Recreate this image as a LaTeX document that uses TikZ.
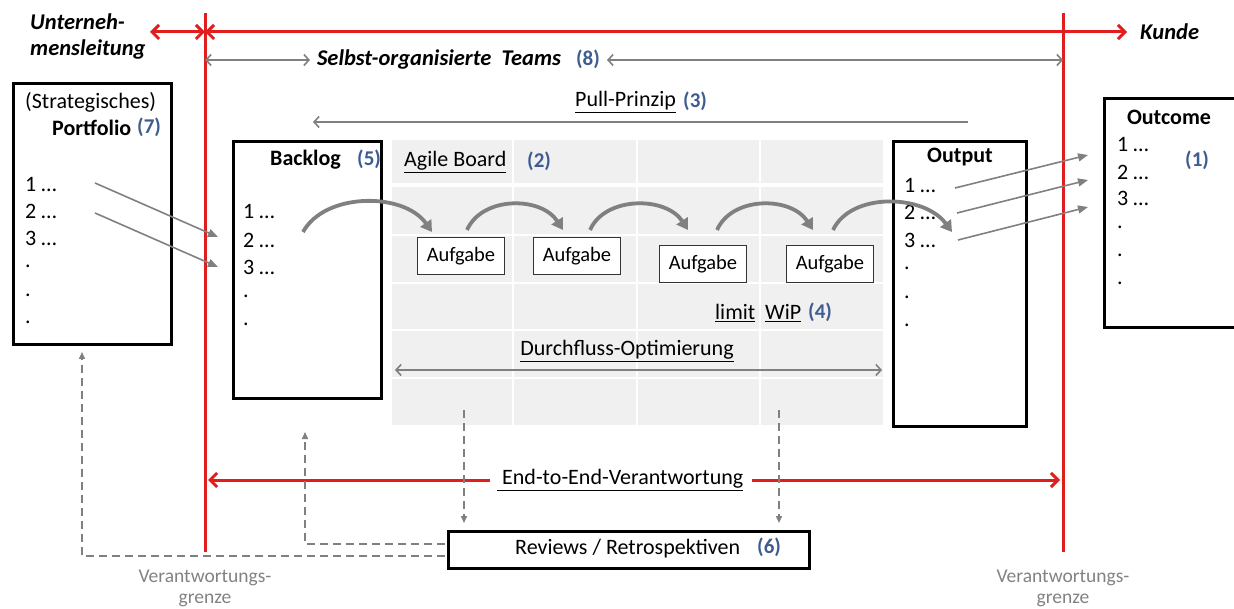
\documentclass[tikz,border=0pt]{standalone}
\usepackage{fontspec}
\setmainfont{Carlito}
\usetikzlibrary{arrows.meta}
\definecolor{redline}{RGB}{224,30,30}
\definecolor{arrowgray}{RGB}{128,128,128}
\definecolor{numblue}{RGB}{62,92,145}
\definecolor{boardgray}{RGB}{240,240,240}
\definecolor{labelgray}{RGB}{130,130,130}
\begin{document}
\begin{tikzpicture}[x=1pt,y=-1pt,
  txt/.style={inner sep=0pt, font=\fontsize{22}{26}\selectfont},
  btxt/.style={inner sep=0pt, font=\fontsize{22}{26}\selectfont\bfseries},
  bitxt/.style={inner sep=0pt, font=\fontsize{22.5}{26}\selectfont\bfseries\itshape},
  num/.style={inner sep=0pt, font=\fontsize{21}{25}\selectfont\bfseries, text=numblue},
  graytxt/.style={inner sep=0pt, font=\fontsize{19.5}{23}\selectfont, text=labelgray},
  listbox/.style={draw=black, line width=3pt, fill=white, inner sep=0pt, anchor=north west},
  taskbox/.style={draw=black!80, line width=1pt, fill=white, inner sep=0pt,
    minimum width=87pt, minimum height=37pt, font=\fontsize{20.5}{24}\selectfont},
  redline/.style={draw=redline, line width=3pt},
  redarrow/.style={redline, {Straight Barb[length=7pt,width=14pt,line width=3pt]}-{Straight Barb[length=7pt,width=14pt,line width=3pt]}},
  redtip/.style={redline, -{Straight Barb[length=7pt,width=14pt,line width=3pt]}},
  thinarrow/.style={draw=arrowgray, line width=1.6pt, {Straight Barb[length=5pt,width=11pt]}-{Straight Barb[length=5pt,width=11pt]}},
  thintip/.style={draw=arrowgray, line width=1.6pt, -{Straight Barb[length=5pt,width=11pt]}},
  feedarrow/.style={draw=arrowgray, line width=1.6pt, -{Triangle[length=10pt,width=8pt]}},
  flowarrow/.style={draw=arrowgray, line width=3.8pt, -{Triangle[length=11pt,width=13pt]}},
  dasharrow/.style={draw=arrowgray, line width=1.5pt, dash pattern=on 8pt off 5pt, -{Triangle[length=7pt,width=6pt]}}
]
\useasboundingbox (0,0) rectangle (1234,609);

% ---------- Agile board background with grid ----------
\fill[boardgray] (392,140) rectangle (883,425);
\draw[white, line width=4pt] (392,185) -- (883,185);
\foreach \yy in {235,283,330,378} \draw[white, line width=1.5pt] (392,\yy) -- (883,\yy);
\foreach \xx in {513,637,760} \draw[white, line width=1.5pt] (\xx,140) -- (\xx,425);

% ---------- responsibility boundaries ----------
\coordinate (lbtop) at (205,13);
\coordinate (lbbot) at (205,552);
\coordinate (rbtop) at (1063,13);
\coordinate (rbbot) at (1063,552);
\draw[redline] (lbtop) -- (lbbot);
\draw[redline] (rbtop) -- (rbbot);

\coordinate (mgmt) at (150,32);
\coordinate (lbtopA) at (205,32);
\coordinate (cust) at (1127,32);
\draw[redarrow] (mgmt) -- (lbtopA);
\draw[redarrow] (lbtopA) -- (cust);

\node[bitxt, anchor=west] (mgmt1) at (30,22) {Unterneh-};
\node[bitxt, anchor=west] (mgmt2) at (30,50) {mensleitung};
\node[bitxt, anchor=west] (kunde) at (1140,32) {Kunde};

% ---------- self-organised teams ----------
\node[bitxt, anchor=center] (teams) at (439,60) {Selbst-organisierte\ \ Teams};
\node[num, anchor=center] (n8) at (588,59) {(8)};
\coordinate (ta) at (205,60);
\coordinate (tb) at (310,60);
\coordinate (tc) at (607,60);
\coordinate (td) at (1063,60);
\draw[thinarrow] (ta) -- (tb);
\draw[thinarrow] (tc) -- (td);

% ---------- pull principle ----------
\node[txt, anchor=west] (pull) at (575,102) {\underline{Pull-Prinzip}};
\node[num, anchor=west] (n3) at (683,101) {(3)};
\coordinate (pullA) at (968,122);
\coordinate (pullB) at (313,122);
\draw[thintip] (pullA) -- (pullB);

% ---------- portfolio ----------
\node[listbox, minimum width=158pt, minimum height=261pt] (portfolio) at (12,82) {};
\node[txt, anchor=west] (strat) at (25,102) {(Strategisches)};
\node[btxt, anchor=west] (pfl) at (52,128) {Portfolio};
\node[num, anchor=west] (n7) at (137,127) {(7)};
\node[txt, anchor=west] (p1) at (25,185) {1 …};
\node[txt, anchor=west] (p2) at (25,211) {2 …};
\node[txt, anchor=west] (p3) at (25,238) {3 …};
\node[txt, anchor=west] (p4) at (25,266) {.};
\node[txt, anchor=west] (p5) at (25,295) {.};
\node[txt, anchor=west] (p6) at (25,322) {.};

% ---------- backlog ----------
\node[listbox, minimum width=148pt, minimum height=257pt] (backlog) at (232,140) {};
\node[btxt, anchor=west] (blt) at (270,160) {Backlog};
\node[num, anchor=west] (n5) at (357,159) {(5)};
\node[txt, anchor=west] (b1) at (243,212) {1 …};
\node[txt, anchor=west] (b2) at (243,240) {2 …};
\node[txt, anchor=west] (b3) at (243,267) {3 …};
\node[txt, anchor=west] (b4) at (243,296) {.};
\node[txt, anchor=west] (b5) at (243,324) {.};

\coordinate (pf1) at (95,183);
\coordinate (pf2) at (95,213);
\coordinate (bl2) at (218,237);
\coordinate (bl3) at (218,267);
\draw[feedarrow] (pf1) -- (bl2);
\draw[feedarrow] (pf2) -- (bl3);

% ---------- output ----------
\node[listbox, minimum width=133pt, minimum height=285pt] (output) at (892,140) {};
\node[btxt, anchor=center] (outt) at (960,157) {Output};
\node[txt, anchor=west] (o1) at (904,186) {1 …};
\node[txt, anchor=west] (o2) at (904,212) {2 …};
\node[txt, anchor=west] (o3) at (904,240) {3 …};
\node[txt, anchor=west] (o4) at (904,268) {.};
\node[txt, anchor=west] (o5) at (904,297) {.};
\node[txt, anchor=west] (o6) at (904,325) {.};

% ---------- outcome ----------
\node[listbox, minimum width=135pt, minimum height=229pt] (outcome) at (1103,97) {};
\node[btxt, anchor=center] (outct) at (1169,117) {Outcome};
\node[num, anchor=west] (n1) at (1185,160) {(1)};
\node[txt, anchor=west] (u1) at (1117,145) {1 …};
\node[txt, anchor=west] (u2) at (1117,172) {2 …};
\node[txt, anchor=west] (u3) at (1117,198) {3 …};
\node[txt, anchor=west] (u4) at (1117,227) {.};
\node[txt, anchor=west] (u5) at (1117,255) {.};
\node[txt, anchor=west] (u6) at (1117,283) {.};

\coordinate (oa) at (955,188);
\coordinate (ob) at (957,213);
\coordinate (oc) at (958,240);
\coordinate (ua) at (1088,155);
\coordinate (ub) at (1088,180);
\coordinate (uc) at (1088,207);
\draw[feedarrow] (oa) -- (ua);
\draw[feedarrow] (ob) -- (ub);
\draw[feedarrow] (oc) -- (uc);

% ---------- agile board contents ----------
\node[txt, anchor=west] (board) at (404,162) {\underline{Agile Board}};
\node[num, anchor=west] (n2) at (527,161) {(2)};

\node[taskbox, anchor=north west] (t1) at (417,237) {Aufgabe};
\node[taskbox, anchor=north west] (t2) at (533,237) {Aufgabe};
\node[taskbox, anchor=north west] (t3) at (659,245) {Aufgabe};
\node[taskbox, anchor=north west] (t4) at (786,245) {Aufgabe};

\coordinate (c1s) at (303,232);
\coordinate (c1e) at (432,232);
\coordinate (c2s) at (467,230);
\coordinate (c2e) at (563,230);
\coordinate (c3s) at (590,230);
\coordinate (c3e) at (688,230);
\coordinate (c4s) at (717,230);
\coordinate (c4e) at (813,230);
\coordinate (c5s) at (833,230);
\coordinate (c5e) at (952,232);
\draw[flowarrow] (c1s) .. controls +(22,-40) and +(-28,-40) .. (c1e);
\draw[flowarrow] (c2s) .. controls +(15,-34) and +(-22,-34) .. (c2e);
\draw[flowarrow] (c3s) .. controls +(15,-34) and +(-22,-34) .. (c3e);
\draw[flowarrow] (c4s) .. controls +(15,-34) and +(-22,-34) .. (c4e);
\draw[flowarrow] (c5s) .. controls +(18,-38) and +(-28,-38) .. (c5e);

\node[txt, anchor=west] (limit) at (715,313) {\underline{limit}};
\node[txt, anchor=west] (wip) at (765,313) {\underline{WiP}};
\node[num, anchor=west] (n4) at (808,312) {(4)};

\node[txt, anchor=center] (flow) at (627,351) {\underline{Durchfluss-Optimierung}};
\coordinate (fa) at (395,370);
\coordinate (fb) at (882,370);
\draw[thinarrow] (fa) -- (fb);

% ---------- end-to-end responsibility ----------
\node[txt, anchor=west] (e2e) at (497,480) {\underline{\ End-to-End-Verantwortung}};
\coordinate (ea) at (490,480);
\coordinate (eb) at (208,480);
\coordinate (ec) at (752,480);
\coordinate (ed) at (1060,480);
\draw[redtip] (ea) -- (eb);
\draw[redtip] (ec) -- (ed);

% ---------- reviews ----------
\node[listbox, minimum width=361pt, minimum height=37pt] (reviews) at (447,530) {};
\node[txt, anchor=west] (revt) at (515,549) {Reviews / Retrospektiven};
\node[num, anchor=west] (n6) at (757,547) {(6)};

\coordinate (da) at (464,410);
\coordinate (db) at (464,523);
\coordinate (dc) at (779,410);
\coordinate (dd) at (779,523);
\draw[dasharrow] (da) -- (db);
\draw[dasharrow] (dc) -- (dd);

\coordinate (ra) at (445,544);
\coordinate (rb) at (305,544);
\coordinate (rc) at (305,432);
\draw[dasharrow] (ra) -- (rb) -- (rc);
\coordinate (rd) at (445,556);
\coordinate (re) at (82,556);
\coordinate (rf) at (82,352);
\draw[dasharrow] (rd) -- (re) -- (rf);

% ---------- boundary labels ----------
\node[graytxt, anchor=center] (vg1) at (205,578) {Verantwortungs-};
\node[graytxt, anchor=center] (vg2) at (205,600) {grenze};
\node[graytxt, anchor=center] (vg3) at (1063,578) {Verantwortungs-};
\node[graytxt, anchor=center] (vg4) at (1063,600) {grenze};
\end{tikzpicture}
\end{document}
